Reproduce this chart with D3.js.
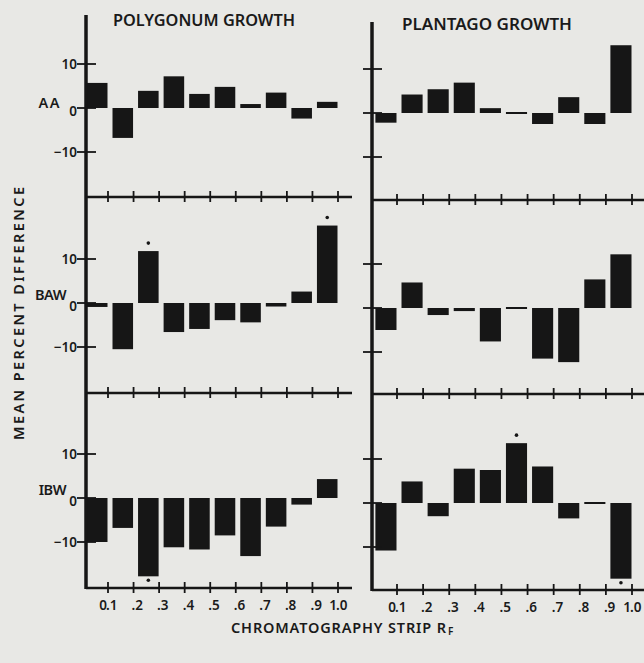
<!DOCTYPE html>
<html>
<head>
<meta charset="utf-8">
<script src="https://cdn.jsdelivr.net/npm/d3@7"></script>
<style>
  body { margin: 0; background: #e8e8e5; }
  svg { display: block; }
  text { font-family: "Noto Sans", "DejaVu Sans", sans-serif; fill: #1a1a1a; font-weight: 600; }
</style>
</head>
<body>
<div id="chart"></div>
<script>
// Rf of each chromatography strip segment (right edge of the bar)
var rfValues = [0.1, 0.2, 0.3, 0.4, 0.5, 0.6, 0.7, 0.8, 0.9, 1.0];
var rfTickLabels = ["0.1", ".2", ".3", ".4", ".5", ".6", ".7", ".8", ".9", "1.0"];
var rowNames = ["AA", "BAW", "IBW"];
var yTickValues = [10, 0, -10];

// mean percent difference
var polygonumAA  = [5.7, -6.8, 3.9, 7.2, 3.2, 4.8, 0.9, 3.5, -2.4, 1.4];
var polygonumBAW = [-0.9, -10.5, 11.8, -6.6, -5.9, -3.9, -4.4, -0.8, 2.6, 17.6];
var polygonumIBW = [-10.0, -6.8, -17.8, -11.2, -11.7, -8.5, -13.2, -6.5, -1.5, 4.3];
var plantagoAA   = [-2.2, 4.2, 5.4, 6.9, 1.1, -0.3, -2.5, 3.6, -2.5, 15.4];
var plantagoBAW  = [-5.0, 5.8, -1.6, -0.7, -7.6, -0.3, -11.5, -12.3, 6.5, 12.2];
var plantagoIBW  = [-10.8, 4.9, -3.0, 7.8, 7.5, 13.6, 8.3, -3.5, -0.4, -17.2];

// significant differences (marked with a dot), by Rf
var polygonumStars = [[], [0.3, 1.0], [0.3]];
var plantagoStars  = [[], [], [0.6, 1.0]];

(function() {
  var width = 644,
    height = 663;

  var svg = d3.select("#chart")
    .append("svg")
    .attr("width", width)
    .attr("height", height);

  svg.append("rect")
    .attr("width", width)
    .attr("height", height)
    .attr("fill", "#e8e8e5");

  var ink = "#161616";

  var panels = [
    { title: "POLYGONUM GROWTH", series: [polygonumAA, polygonumBAW, polygonumIBW], stars: polygonumStars,
      axisX: 86, top: 15, x0: 108, x1: 338, right: 352,
      zeros: [108, 303, 498], bottoms: [197, 393, 588],
      titleX: 113, titleW: 182, titleY: 26, labels: true },
    { title: "PLANTAGO GROWTH", series: [plantagoAA, plantagoBAW, plantagoIBW], stars: plantagoStars,
      axisX: 372, top: 22, x0: 397, x1: 632, right: 644,
      zeros: [113, 308, 503], bottoms: [200, 394, 590],
      titleX: 402, titleW: 170, titleY: 30, labels: false }
  ];

  panels.forEach(function(p) {
    var g = svg.append("g");

    var x = d3.scaleLinear().domain([0.1, 1.0]).range([p.x0, p.x1]);

    g.append("text")
      .attr("x", p.titleX)
      .attr("y", p.titleY)
      .attr("font-size", 16)
      .attr("textLength", p.titleW)
      .attr("lengthAdjust", "spacingAndGlyphs")
      .text(p.title);

    p.series.forEach(function(values, r) {
      var zero = p.zeros[r],
        bottom = p.bottoms[r];
      var y = d3.scaleLinear().domain([-10, 10]).range([zero + 44, zero - 44]);

      var rows = rfValues.map(function(rf, i) {
        return { rf: rf, v: values[i] };
      });

      // bars
      g.selectAll(".bar-" + r)
        .data(rows)
        .enter().append("rect")
        .attr("class", "bar-" + r)
        .attr("x", function(d) { return x(d.rf - 0.1) + 4.5; })
        .attr("width", function(d) { return x(d.rf) - x(d.rf - 0.1) - 5; })
        .attr("y", function(d) { return Math.min(y(0), y(d.v)) - (Math.abs(y(d.v) - y(0)) < 2 ? 1 : 0); })
        .attr("height", function(d) { return Math.max(2, Math.abs(y(d.v) - y(0))); })
        .attr("fill", ink);

      // significance dots
      g.selectAll(".star-" + r)
        .data(rows.filter(function(d) {
          return p.stars[r].some(function(s) { return Math.abs(s - d.rf) < 1e-6; });
        }))
        .enter().append("circle")
        .attr("class", "star-" + r)
        .attr("cx", function(d) { return (x(d.rf - 0.1) + x(d.rf)) / 2 + 2; })
        .attr("cy", function(d) { return d.v > 0 ? y(d.v) - 8 : y(d.v) + 4; })
        .attr("r", 1.8)
        .attr("fill", ink);

      // bottom axis of the row
      g.append("line")
        .attr("x1", p.axisX).attr("x2", p.right)
        .attr("y1", bottom).attr("y2", bottom)
        .attr("stroke", ink).attr("stroke-width", 2.5);

      g.selectAll(".xtick-" + r)
        .data(rfValues)
        .enter().append("line")
        .attr("class", "xtick-" + r)
        .attr("x1", function(d) { return x(d); })
        .attr("x2", function(d) { return x(d); })
        .attr("y1", bottom - 6)
        .attr("y2", bottom + 5)
        .attr("stroke", ink).attr("stroke-width", 1.8);

      // y ticks
      g.selectAll(".ytick-" + r)
        .data(yTickValues)
        .enter().append("line")
        .attr("class", "ytick-" + r)
        .attr("x1", p.axisX - 9)
        .attr("x2", p.axisX + 10)
        .attr("y1", function(d) { return y(d); })
        .attr("y2", function(d) { return y(d); })
        .attr("stroke", ink).attr("stroke-width", 1.8);

      if (p.labels) {
        g.selectAll(".ylab-" + r)
          .data(yTickValues)
          .enter().append("text")
          .attr("class", "ylab-" + r)
          .attr("x", 77)
          .attr("y", function(d) { return y(d) + (d === 0 ? 8 : 5); })
          .attr("text-anchor", "end")
          .attr("font-size", 13.5)
          .text(function(d) { return d === 10 ? "10" : d === -10 ? "\u221210" : "0"; });

        g.append("text")
          .attr("x", r === 0 ? 61 : 66)
          .attr("y", zero - (r === 0 ? 0 : 3))
          .attr("text-anchor", "end")
          .attr("font-size", 14.5)
          .attr("letter-spacing", r === 0 ? 1.5 : -0.5)
          .text(rowNames[r]);
      }
    });

    // vertical axis
    g.append("line")
      .attr("x1", p.axisX).attr("x2", p.axisX)
      .attr("y1", p.top).attr("y2", p.bottoms[2] + 1)
      .attr("stroke", ink).attr("stroke-width", 3.5);

    // Rf tick labels, decimal point sitting on the tick
    var lastBottom = p.bottoms[2];
    g.selectAll(".rfl")
      .data(rfTickLabels)
      .enter().append("text")
      .attr("class", "rfl")
      .attr("x", function(d, i) { return x(rfValues[i]) - 2; })
      .attr("y", lastBottom + 22)
      .attr("text-anchor", "start")
      .attr("font-size", 13.5)
      .text(function(d) { return d.slice(d.indexOf(".")); });

    g.selectAll(".rfl-lead")
      .data(rfTickLabels.filter(function(d) { return d[0] !== "."; }))
      .enter().append("text")
      .attr("class", "rfl-lead")
      .attr("x", function(d) { return x(+d) - 1; })
      .attr("y", lastBottom + 22)
      .attr("text-anchor", "end")
      .attr("font-size", 13.5)
      .text(function(d) { return d.slice(0, d.indexOf(".")); });
  });

  // axis titles
  svg.append("text")
    .attr("transform", "translate(24,440) rotate(-90)")
    .attr("font-size", 14.5)
    .attr("textLength", 253)
    .attr("lengthAdjust", "spacing")
    .text("MEAN PERCENT DIFFERENCE");

  svg.append("text")
    .attr("x", 231)
    .attr("y", 633)
    .attr("font-size", 14.5)
    .attr("textLength", 215)
    .attr("lengthAdjust", "spacing")
    .text("CHROMATOGRAPHY STRIP R");

  svg.append("text")
    .attr("x", 448)
    .attr("y", 635)
    .attr("font-size", 10)
    .text("F");
})();
</script>
</body>
</html>
